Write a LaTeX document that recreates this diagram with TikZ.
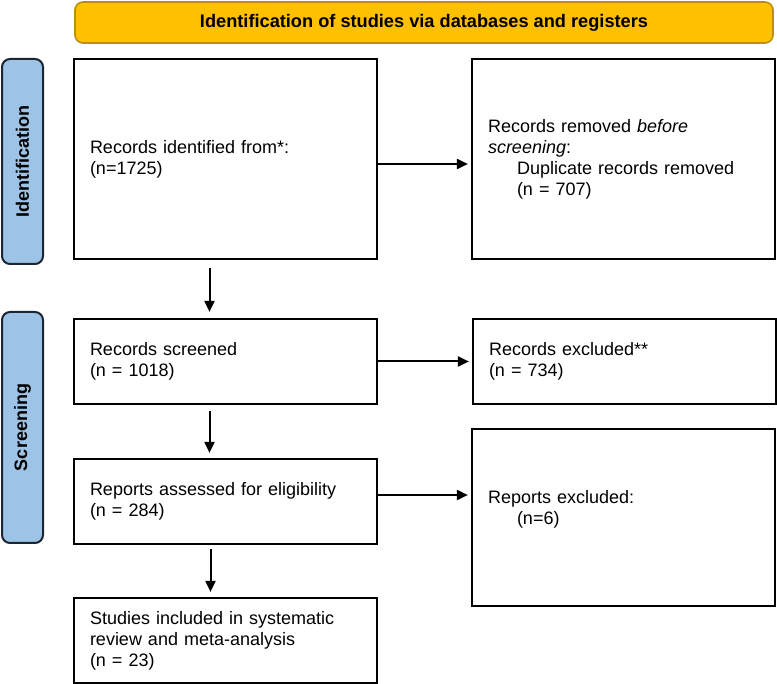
\documentclass[tikz,border=0pt]{standalone}
\usepackage{fontspec}
\setmainfont{Liberation Sans}
\usetikzlibrary{arrows.meta}
\definecolor{bannerfill}{HTML}{FFC000}
\definecolor{bannerdraw}{HTML}{B8900A}
\definecolor{sidefill}{HTML}{9DC3E6}
\definecolor{sidedraw}{HTML}{1C2633}
\begin{document}
\begin{tikzpicture}[x=1pt,y=-1pt,
  every node/.style={font=\fontsize{18}{21}\selectfont},
  box/.style={draw=black,line width=2.2pt,fill=white,minimum width=303pt,
     text width=271pt,align=left,inner xsep=16pt,inner ysep=0pt,anchor=center},
  banner/.style={draw=bannerdraw,line width=1.6pt,fill=bannerfill,rounded corners=8pt,
     minimum width=698pt,minimum height=41pt,font=\fontsize{18.2}{21}\selectfont\bfseries},
  side/.style={draw=sidedraw,line width=2pt,fill=sidefill,rounded corners=8pt,
     minimum height=41pt,font=\fontsize{18}{21}\selectfont\bfseries,rotate=90,inner sep=0pt},
  arr/.style={line width=2pt,-{Triangle[length=11pt,width=10pt]}}]
\useasboundingbox (0,0) rectangle (777,684);

\node[banner] (ban) at (424,22.5) {Identification of studies via databases and registers};

\node[side,minimum width=205pt] (sid) at (22.5,161.5) {Identification};
\node[side,minimum width=231pt] (sscr) at (22.5,427.5) {Screening};

\node[box,minimum height=200pt] (b1) at (225.5,159) {Records identified from*:\\(n=1725)};
\node[box,minimum height=200pt] (b2) at (623.5,159) {Records removed \textit{before}\\\textit{screening}:\\\hspace*{29pt}Duplicate records removed\\\hspace*{29pt}(n = 707)};
\node[box,minimum height=85pt] (b3) at (225.5,361.5) {Records screened\\(n = 1018)};
\node[box,minimum height=85pt] (b4) at (624.5,361.5) {Records excluded**\\(n = 734)};
\node[box,minimum height=85pt] (b5) at (225.5,501.5) {Reports assessed for eligibility\\(n = 284)};
\node[box,minimum height=177pt] (b6) at (623.5,517.5) {Reports excluded:\\\hspace*{29pt}(n=6)\\\mbox{}};
\node[box,minimum height=85pt] (b7) at (225.5,640.5) {Studies included in systematic\\review and meta-analysis\\(n = 23)};

\draw[arr,shorten >=3pt] ([yshift=-5pt]b1.east) -- ([yshift=-5pt]b1.east -| b2.west);
\draw[arr,shorten >=3pt] (b3.east) -- (b3.east -| b4.west);
\draw[arr,shorten >=3pt] ([yshift=6.5pt]b5.east) -- ([yshift=6.5pt]b5.east -| b6.west);

\draw[arr] ([xshift=-16pt,yshift=-8pt]b1.south) -- ([xshift=-16pt,yshift=6pt]b3.north);
\draw[arr] ([xshift=-16pt,yshift=-6pt]b3.south) -- ([xshift=-16pt,yshift=5pt]b5.north);
\draw[arr] ([xshift=-15pt,yshift=-4pt]b5.south) -- ([xshift=-15pt,yshift=5pt]b7.north);
\end{tikzpicture}
\end{document}
